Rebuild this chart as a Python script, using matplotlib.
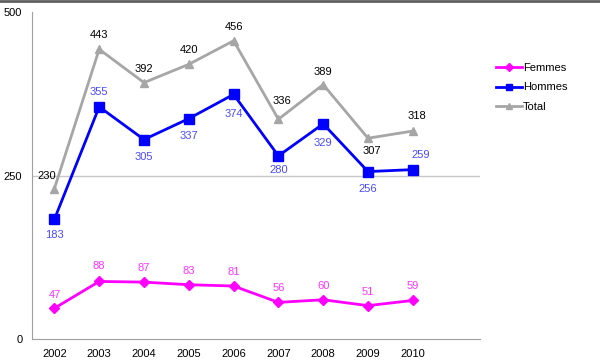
import matplotlib.pyplot as plt
from matplotlib.lines import Line2D

plt.rcParams['font.family'] = ['Liberation Sans', 'DejaVu Sans']

years = ['2002', '2003', '2004', '2005', '2006', '2007', '2008', '2009', '2010']
femmes = [47, 88, 87, 83, 81, 56, 60, 51, 59]
hommes = [183, 355, 305, 337, 374, 280, 329, 256, 259]
total = [230, 443, 392, 420, 456, 336, 389, 307, 318]

# label placement: offset in pixels (dx, dy)
off_f = [(0, 13), (0, 15), (0, 14), (0, 14), (0, 14), (0, 14), (0, 14), (0, 14), (0, 14)]
off_h = [(0, -16), (0, 15), (0, -17), (0, -17), (0, -20), (0, -14), (0, -19), (0, -17), (8, 15)]
off_t = [(-8, 13), (0, 14), (0, 14), (0, 14), (0, 14), (4, 18), (0, 13), (4, -13), (4, 15)]

fig = plt.figure(figsize=(6, 3.64), dpi=100)
ax = fig.add_axes([32/600, 25/364, 448/600, 327/364])

x = range(len(years))
ax.axhline(250, color='#c8c8c8', lw=1, zorder=0)

ax.plot(x, total, color='#a6a6a6', lw=2, marker='^', ms=6, label='Total', zorder=2)
ax.plot(x, hommes, color='#0000ff', lw=2, marker='s', ms=6.5, label='Hommes', zorder=3)
ax.plot(x, femmes, color='#ff00ff', lw=2, marker='D', ms=5.5, label='Femmes', zorder=3)

for i in x:
    ax.annotate(str(total[i]), (i, total[i]), xytext=off_t[i], textcoords='offset pixels',
                ha='center', va='center', fontsize=8, color='black')
    ax.annotate(str(hommes[i]), (i, hommes[i]), xytext=off_h[i], textcoords='offset pixels',
                ha='center', va='center', fontsize=8, color='#4a4aff')
    ax.annotate(str(femmes[i]), (i, femmes[i]), xytext=off_f[i], textcoords='offset pixels',
                ha='center', va='center', fontsize=8, color='#ff33ff')

ax.set_xlim(-0.5, 9.5)
ax.set_ylim(0, 500)
ax.set_xticks(list(x))
ax.set_xticklabels(years)
ax.set_yticks([0, 250, 500])
ax.tick_params(length=0, labelsize=8, colors='black')
ax.tick_params(axis='y', pad=7)
ax.tick_params(axis='x', pad=7)

for s in ['top', 'right']:
    ax.spines[s].set_visible(False)
ax.spines['left'].set_color('#a0a0a0')
ax.spines['bottom'].set_color('#a0a0a0')

# legend drawn in the Excel order
handles = [Line2D([], [], color='#ff00ff', lw=2, marker='D', ms=4),
           Line2D([], [], color='#0000ff', lw=2, marker='s', ms=5),
           Line2D([], [], color='#a6a6a6', lw=2, marker='^', ms=5)]
fig.legend(handles, ['Femmes', 'Hommes', 'Total'], loc='upper left',
           bbox_to_anchor=(486/600, 1 - 53/364), frameon=False, fontsize=8,
           handlelength=2.3, handletextpad=0.1, labelspacing=0.85)

fig.add_artist(Line2D([0, 1], [0.998, 0.998], color='#606060', lw=2, transform=fig.transFigure))

fig.savefig('out.png', dpi=100)
